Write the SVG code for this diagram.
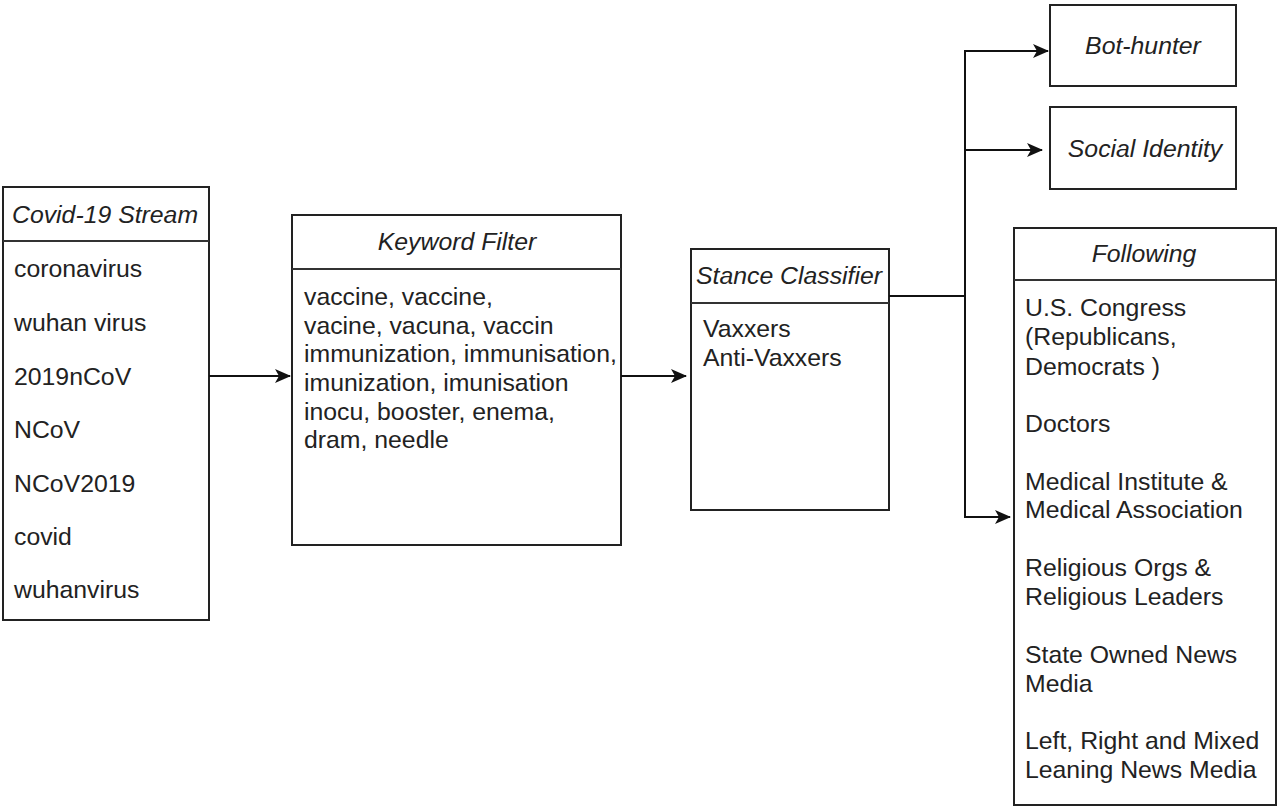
<svg xmlns="http://www.w3.org/2000/svg" width="1280" height="811" viewBox="0 0 1280 811">
<defs>
<style>
.box{fill:#fff;stroke:#222;stroke-width:2}
.div{stroke:#333;stroke-width:2}
text{font-family:"Liberation Sans",Arial,sans-serif;font-size:24.8px;fill:#222}
.t{font-style:italic}
.c{text-anchor:middle}
.ln{fill:none;stroke:#111;stroke-width:2}
</style>
<marker id="ah" viewBox="0 0 16 14" refX="15" refY="7" markerWidth="16" markerHeight="14" markerUnits="userSpaceOnUse" orient="auto">
<path d="M0,0 L16,7 L0,14 L4,7 Z" fill="#111"/>
</marker>
</defs>
<rect width="1280" height="811" fill="#fff"/>

<g id="covid">
<rect class="box" x="3" y="187" width="206" height="433"/>
<line class="div" x1="3" y1="241" x2="209" y2="241"/>
<text class="t" x="12" y="223">Covid-19 Stream</text>
<text x="14" y="277">coronavirus</text>
<text x="14" y="331">wuhan virus</text>
<text x="14" y="385">2019nCoV</text>
<text x="14" y="438">NCoV</text>
<text x="14" y="492">NCoV2019</text>
<text x="14" y="545">covid</text>
<text x="14" y="598">wuhanvirus</text>
</g>

<g id="keyword">
<rect class="box" x="292" y="215" width="329" height="330"/>
<line class="div" x1="292" y1="269" x2="621" y2="269"/>
<text class="t c" x="457" y="250">Keyword Filter</text>
<text x="304" y="305">vaccine, vaccine,</text>
<text x="304" y="334">vacine, vacuna, vaccin</text>
<text x="304" y="362">immunization, immunisation,</text>
<text x="304" y="391">imunization, imunisation</text>
<text x="304" y="420">inocu, booster, enema,</text>
<text x="304" y="448">dram, needle</text>
</g>

<g id="stance">
<rect class="box" x="691" y="249" width="198" height="261"/>
<line class="div" x1="691" y1="303" x2="889" y2="303"/>
<text class="t" x="696" y="284">Stance Classifier</text>
<text x="703" y="337">Vaxxers</text>
<text x="703" y="366">Anti-Vaxxers</text>
</g>

<g id="bothunter">
<rect class="box" x="1050" y="5" width="186" height="81"/>
<text class="t c" x="1143" y="54">Bot-hunter</text>
</g>

<g id="social">
<rect class="box" x="1050" y="107" width="186" height="82"/>
<text class="t c" x="1145" y="157">Social Identity</text>
</g>

<g id="following">
<rect class="box" x="1014" y="228" width="262" height="577"/>
<line class="div" x1="1014" y1="280" x2="1276" y2="280"/>
<text class="t c" x="1144" y="262">Following</text>
<text x="1025" y="316">U.S. Congress</text>
<text x="1025" y="345">(Republicans,</text>
<text x="1025" y="375">Democrats )</text>
<text x="1025" y="432">Doctors</text>
<text x="1025" y="490">Medical Institute &amp;</text>
<text x="1025" y="518">Medical Association</text>
<text x="1025" y="576">Religious Orgs &amp;</text>
<text x="1025" y="605">Religious Leaders</text>
<text x="1025" y="663">State Owned News</text>
<text x="1025" y="692">Media</text>
<text x="1025" y="749">Left, Right and Mixed</text>
<text x="1025" y="778">Leaning News Media</text>
</g>

<g id="connectors">
<line class="ln" x1="209" y1="376" x2="290" y2="376" marker-end="url(#ah)"/>
<line class="ln" x1="621" y1="376" x2="686" y2="376" marker-end="url(#ah)"/>
<line class="ln" x1="889" y1="296" x2="965" y2="296" stroke-width="3"/>
<polyline class="ln" points="965,296 965,51 1048,51" marker-end="url(#ah)"/>
<line class="ln" x1="965" y1="150" x2="1042" y2="150" marker-end="url(#ah)"/>
<polyline class="ln" points="965,296 965,517 1010,517" marker-end="url(#ah)"/>
</g>
</svg>
